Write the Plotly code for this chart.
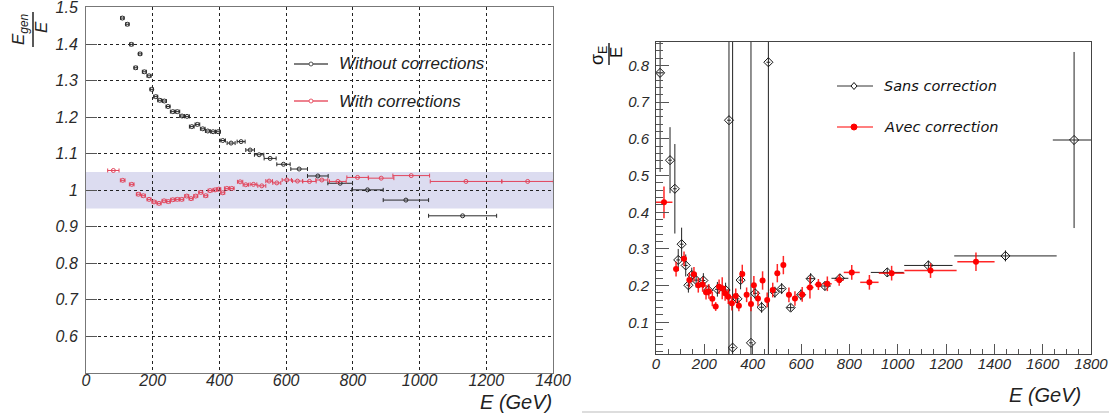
import plotly.graph_objects as go

W, H = 1109, 417

# ---------------- Left panel data: E_gen / E vs E ----------------
left_black_x = [109, 124, 136, 149, 162, 175, 189, 197, 209, 221, 235, 246, 260, 274, 288, 303,
                317, 334, 350, 365, 381, 396, 410, 435, 465, 492, 519, 552, 592, 639, 695, 762,
                844, 959, 1129]
left_black_y = [1.471, 1.454, 1.399, 1.335, 1.373, 1.324, 1.313, 1.276, 1.256, 1.246, 1.244, 1.229,
                1.215, 1.215, 1.203, 1.202, 1.174, 1.180, 1.168, 1.162, 1.160, 1.160, 1.136, 1.129,
                1.133, 1.110, 1.097, 1.087, 1.071, 1.058, 1.039, 1.019, 1.001, 0.973, 0.930]
left_black_ex = [5, 5, 5, 5, 5, 6, 6, 5, 6, 6, 6, 6, 7, 7, 7, 7, 7, 7, 7, 7, 7, 7, 8, 12, 12, 13,
                 14, 18, 20, 25, 31, 37, 47, 68, 102]

left_red_x = [82, 110, 137, 157, 172, 189, 204, 219, 234, 247, 260, 274, 287, 302, 315, 329, 344,
              359, 372, 387, 398, 410, 422, 437, 462, 479, 502, 527, 549, 572, 602, 634, 670, 707,
              755, 814, 885, 975, 1139, 1324]
left_red_y = [1.054, 1.027, 1.016, 0.989, 0.985, 0.975, 0.968, 0.964, 0.971, 0.969, 0.974, 0.975,
              0.975, 0.984, 0.977, 0.984, 0.994, 0.985, 0.999, 1.001, 1.003, 0.993, 1.005, 1.005,
              1.023, 1.015, 1.016, 1.012, 1.025, 1.020, 1.028, 1.025, 1.024, 1.028, 1.024, 1.035,
              1.033, 1.040, 1.024, 1.024]
left_red_ex = [17, 7, 7, 6, 6, 6, 6, 6, 6, 6, 6, 6, 6, 6, 6, 6, 6, 6, 6, 6, 6, 6, 7, 7, 8, 8, 10,
               12, 10, 12, 14, 15, 20, 18, 25, 32, 38, 55, 107, 77]

left_band = [0.95, 1.05]
left_yticks = [0.6, 0.7, 0.8, 0.9, 1.0, 1.1, 1.2, 1.3, 1.4, 1.5]
left_yticktext = ["0.6", "0.7", "0.8", "0.9", "1", "1.1", "1.2", "1.3", "1.4", "1.5"]
left_xticks = [0, 200, 400, 600, 800, 1000, 1200, 1400]
left_legend = ["Without corrections", "With corrections"]

# ---------------- Right panel data: sigma_E / E vs E ----------------
right_black_x = [17, 58, 78, 92, 106, 123, 134, 148, 166, 196, 216, 254, 288, 302, 317, 337, 350,
                 393, 410, 437, 465, 492, 520, 557, 600, 640, 699, 761, 957, 1127, 1446, 1730]
right_black_y = [0.780, 0.542, 0.464, 0.270, 0.313, 0.255, 0.201, 0.229, 0.215, 0.214, 0.188,
                 0.190, 0.188, 0.651, 0.031, 0.164, 0.215, 0.044, 0.179, 0.141, 0.809, 0.182,
                 0.192, 0.140, 0.175, 0.219, 0.199, 0.220, 0.236, 0.255, 0.281, 0.597]
right_black_ex = [15, 8, 8, 8, 8, 8, 8, 8, 8, 8, 8, 10, 10, 8, 8, 8, 8, 8, 8, 10, 8, 10, 12, 15,
                  15, 18, 25, 35, 68, 100, 212, 88]
right_black_ey = [0.27, 0.09, 0.122, 0.03, 0.045, 0.03, 0.02, 0.02, 0.02, 0.02, 0.015, 0.02, 0.02,
                  1.0, 1.0, 0.015, 0.025, 0.9, 0.015, 0.015, 0.9, 0.015, 0.015, 0.01, 0.015, 0.015,
                  0.012, 0.012, 0.012, 0.013, 0.015, 0.24]

right_red_x = [33, 83, 116, 138, 157, 175, 193, 207, 219, 233, 247, 261, 274, 286, 299, 314, 330,
               343, 357, 375, 393, 405, 422, 441, 460, 483, 502, 527, 550, 575, 605, 637, 672, 709,
               758, 810, 883, 975, 1136, 1324]
right_red_y = [0.427, 0.245, 0.273, 0.215, 0.231, 0.201, 0.203, 0.182, 0.184, 0.164, 0.143, 0.197,
               0.193, 0.179, 0.170, 0.152, 0.172, 0.145, 0.232, 0.175, 0.150, 0.201, 0.165, 0.214,
               0.161, 0.188, 0.234, 0.256, 0.175, 0.165, 0.176, 0.195, 0.203, 0.205, 0.215, 0.236,
               0.209, 0.234, 0.241, 0.265]
right_red_ex = [35, 8, 8, 8, 8, 8, 8, 8, 8, 8, 8, 8, 8, 8, 8, 8, 8, 8, 8, 8, 8, 8, 8, 8, 8, 10,
                10, 10, 12, 12, 12, 15, 15, 18, 19, 33, 38, 53, 108, 77]
right_red_ey = [0.043, 0.02, 0.02, 0.02, 0.02, 0.02, 0.02, 0.02, 0.02, 0.02, 0.012, 0.02, 0.03,
                0.02, 0.02, 0.02, 0.02, 0.015, 0.025, 0.02, 0.02, 0.025, 0.02, 0.025, 0.02, 0.02,
                0.025, 0.025, 0.02, 0.02, 0.02, 0.03, 0.015, 0.02, 0.015, 0.02, 0.02, 0.02, 0.02,
                0.025]
right_xticks = [0, 200, 400, 600, 800, 1000, 1200, 1400, 1600, 1800]
right_yticks = [0.1, 0.2, 0.3, 0.4, 0.5, 0.6, 0.7, 0.8]
right_legend = ["Sans correction", "Avec correction"]


def px(x):
    return x / W


def py(y):
    return 1 - y / H


def ital(vals):
    return ["<i>%s</i>" % v for v in vals]


LFONT = "Liberation Sans"
RFONT = "DejaVu Sans"
LBLACK = "#2a2a2a"
LRED = "#e2455c"

fig = go.Figure()

# Left panel traces
fig.add_trace(go.Scatter(
    x=left_black_x, y=left_black_y, mode="markers", xaxis="x", yaxis="y",
    marker=dict(symbol="circle-open", size=4, color=LBLACK, line=dict(width=1)),
    error_x=dict(type="data", array=left_black_ex, color=LBLACK, thickness=1, width=2),
    showlegend=False))
fig.add_trace(go.Scatter(
    x=left_red_x, y=left_red_y, mode="markers", xaxis="x", yaxis="y",
    marker=dict(symbol="circle-open", size=4, color=LRED, line=dict(width=1)),
    error_x=dict(type="data", array=left_red_ex, color=LRED, thickness=1, width=2),
    showlegend=False))

# Right panel traces
fig.add_trace(go.Scatter(
    x=right_black_x, y=right_black_y, mode="markers", xaxis="x2", yaxis="y2",
    marker=dict(symbol="diamond-open", size=7, color="#111111", line=dict(width=1)),
    error_x=dict(type="data", array=right_black_ex, color="#222222", thickness=1, width=0),
    error_y=dict(type="data", array=right_black_ey, color="#222222", thickness=1, width=0),
    showlegend=False))
fig.add_trace(go.Scatter(
    x=right_red_x, y=right_red_y, mode="markers", xaxis="x2", yaxis="y2",
    marker=dict(symbol="circle", size=6, color="#ff0000"),
    error_x=dict(type="data", array=right_red_ex, color="rgba(255,0,0,0.85)", thickness=1.5, width=0),
    error_y=dict(type="data", array=right_red_ey, color="rgba(255,0,0,0.85)", thickness=1.5, width=0),
    showlegend=False))

lt_font = dict(family=LFONT, size=16, color="#2a2a2a")
rt_font = dict(family=LFONT, size=15, color="#2a2a2a")

fig.update_layout(
    width=W, height=H, margin=dict(l=0, r=0, t=0, b=0, autoexpand=False),
    paper_bgcolor="white", plot_bgcolor="white", showlegend=False,
    xaxis=dict(domain=[px(86), px(553)], range=[0, 1400], anchor="y", automargin=False,
               tickmode="array", tickvals=left_xticks, ticktext=ital(left_xticks),
               showgrid=True, gridcolor="#222222", griddash="dot", gridwidth=1,
               zeroline=False, showline=True, linecolor="#777777", linewidth=1, mirror=True,
               ticks="", tickfont=lt_font, ticklabelstandoff=-7, ticklabeloverflow="allow"),
    yaxis=dict(domain=[py(373), py(7.3)], range=[0.5, 1.5004], anchor="x", automargin=False,
               tickmode="array", tickvals=left_yticks, ticktext=ital(left_yticktext),
               showgrid=True, gridcolor="#222222", griddash="dot", gridwidth=1,
               zeroline=False, showline=True, linecolor="#777777", linewidth=1, mirror=True,
               ticks="inside", ticklen=11, tickcolor="#555555", tickfont=lt_font,
               ticklabelstandoff=4, ticklabeloverflow="allow"),
    xaxis2=dict(domain=[px(656), px(1091)], range=[0, 1800], anchor="y2", automargin=False,
                tickmode="array", tickvals=right_xticks, ticktext=ital(right_xticks),
                showgrid=False, zeroline=False,
                showline=True, linecolor="#444444", linewidth=1, mirror=True,
                ticks="inside", ticklen=10, tickcolor="#555555", tickfont=rt_font,
                minor=dict(dtick=50, tick0=0, ticks="inside", ticklen=5, tickcolor="#555555",
                           showgrid=False),
                ticklabelstandoff=-4, ticklabeloverflow="allow"),
    yaxis2=dict(domain=[py(354), py(41.7)], range=[0.0136, 0.865], anchor="x2", automargin=False,
                tickmode="array", tickvals=right_yticks, ticktext=ital(right_yticks),
                showgrid=False, zeroline=False,
                showline=True, linecolor="#444444", linewidth=1, mirror=True,
                ticks="inside", ticklen=13, tickcolor="#555555", tickfont=rt_font,
                minor=dict(dtick=0.02, tick0=0, ticks="inside", ticklen=7, tickcolor="#555555",
                           showgrid=False),
                ticklabelstandoff=3, ticklabeloverflow="allow"),
)

shapes = []
# blue band (below gridlines)
shapes.append(dict(type="rect", xref="x", yref="y", x0=0, x1=1400, y0=left_band[0], y1=left_band[1],
                   fillcolor="#dcdcf0", line=dict(width=0), layer="below"))
# left legend white box
shapes.append(dict(type="rect", xref="paper", yref="paper", x0=px(288), x1=px(486),
                   y0=py(117), y1=py(45), fillcolor="white", line=dict(width=0), layer="between"))
# left legend samples
for yy, col in [(64, "#555555"), (101, "#e8586a")]:
    shapes.append(dict(type="line", xref="paper", yref="paper", x0=px(294), x1=px(328),
                       y0=py(yy), y1=py(yy), line=dict(color=col, width=1.5)))
    shapes.append(dict(type="circle", xref="paper", yref="paper", xsizemode="pixel",
                       ysizemode="pixel", xanchor=px(311), yanchor=py(yy), x0=-2, x1=2, y0=-2, y1=2,
                       line=dict(color=col, width=1), fillcolor="white"))
# right legend samples
shapes.append(dict(type="line", xref="paper", yref="paper", x0=px(837), x1=px(873),
                   y0=py(86), y1=py(86), line=dict(color="#333333", width=1)))
shapes.append(dict(type="path", xref="paper", yref="paper", xsizemode="pixel", ysizemode="pixel",
                   xanchor=px(854), yanchor=py(86), path="M 0,3.5 L 3,0 L 0,-3.5 L -3,0 Z",
                   line=dict(color="#111111", width=1), fillcolor="white"))
shapes.append(dict(type="line", xref="paper", yref="paper", x0=px(837), x1=px(873),
                   y0=py(127), y1=py(127), line=dict(color="#ff0000", width=1.2)))
shapes.append(dict(type="circle", xref="paper", yref="paper", xsizemode="pixel", ysizemode="pixel",
                   xanchor=px(854), yanchor=py(127), x0=-3, x1=3, y0=-3, y1=3,
                   line=dict(color="#ff0000", width=1), fillcolor="#ff0000"))
# fraction bars of y titles
shapes.append(dict(type="line", xref="paper", yref="paper", x0=px(33), x1=px(33),
                   y0=py(12), y1=py(47), line=dict(color="#222222", width=1.5)))
shapes.append(dict(type="line", xref="paper", yref="paper", x0=px(609), x1=px(609),
                   y0=py(43), y1=py(65), line=dict(color="#222222", width=1.5)))
# light bottom border line on the right image
shapes.append(dict(type="line", xref="paper", yref="paper", x0=px(582), x1=1,
                   y0=py(412), y1=py(412), line=dict(color="#dddddd", width=2)))
fig.update_layout(shapes=shapes)

ann = []
# left legend texts
ann.append(dict(x=px(337), y=py(64), xref="paper", yref="paper", xanchor="left", yanchor="middle",
                text="<i>%s</i>" % left_legend[0], showarrow=False,
                font=dict(family=LFONT, size=17, color="#222222")))
ann.append(dict(x=px(337), y=py(101), xref="paper", yref="paper", xanchor="left", yanchor="middle",
                text="<i>%s</i>" % left_legend[1], showarrow=False,
                font=dict(family=LFONT, size=17, color="#222222")))
# right legend texts
ann.append(dict(x=px(882), y=py(86), xref="paper", yref="paper", xanchor="left", yanchor="middle",
                text="<i>%s</i>" % right_legend[0], showarrow=False,
                font=dict(family=RFONT, size=14.5, color="#111111")))
ann.append(dict(x=px(882), y=py(127), xref="paper", yref="paper", xanchor="left", yanchor="middle",
                text="<i>%s</i>" % right_legend[1], showarrow=False,
                font=dict(family=RFONT, size=14.5, color="#111111")))
# x axis titles
ann.append(dict(x=px(554), y=py(402), xref="paper", yref="paper", xanchor="right", yanchor="middle",
                text="<i>E (GeV)</i>", showarrow=False,
                font=dict(family=LFONT, size=20, color="#222222")))
ann.append(dict(x=px(1083), y=py(395), xref="paper", yref="paper", xanchor="right", yanchor="middle",
                text="<i>E (GeV)</i>", showarrow=False,
                font=dict(family=LFONT, size=20, color="#222222")))
# left y title fraction
ann.append(dict(x=px(20), y=py(29), xref="paper", yref="paper", xanchor="center", yanchor="middle",
                text="<i>E<sub>gen</sub></i>", textangle=-90, showarrow=False,
                font=dict(family=LFONT, size=17, color="#222222")))
ann.append(dict(x=px(41), y=py(27), xref="paper", yref="paper", xanchor="center", yanchor="middle",
                text="<i>E</i>", textangle=-90, showarrow=False,
                font=dict(family=LFONT, size=17, color="#222222")))
# right y title fraction
ann.append(dict(x=px(598), y=py(55), xref="paper", yref="paper", xanchor="center", yanchor="middle",
                text="σ<sub>E</sub>", textangle=-90, showarrow=False,
                font=dict(family=LFONT, size=18, color="#111111")))
ann.append(dict(x=px(617), y=py(53), xref="paper", yref="paper", xanchor="center", yanchor="middle",
                text="E", textangle=-90, showarrow=False,
                font=dict(family=LFONT, size=17, color="#111111")))
fig.update_layout(annotations=ann)

fig.write_html("out.html", config={"displayModeBar": False},
               post_script="document.body.style.margin='0px';document.body.style.overflow='hidden';")
